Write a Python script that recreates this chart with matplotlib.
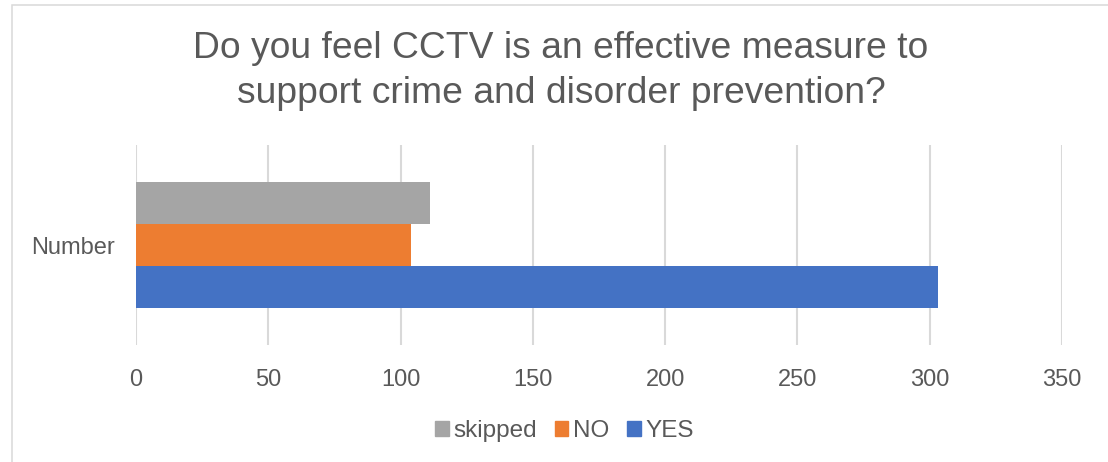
import matplotlib
matplotlib.use("Agg")
import matplotlib.pyplot as plt
from matplotlib.patches import Patch, Rectangle

# survey answers
category = "Number"
series = ["YES", "NO", "skipped"]
counts = [303, 104, 111]
colors = ["#4472C4", "#ED7D31", "#A5A5A5"]
x_ticks = [0, 50, 100, 150, 200, 250, 300, 350]

text_color = "#595959"
grid_color = "#D9D9D9"
plt.rcParams["font.family"] = ["Liberation Sans", "DejaVu Sans"]

fig = plt.figure(figsize=(11.08, 4.62), dpi=100)
ax = fig.add_axes([136 / 1108, 1 - 345 / 462, (1062 - 136) / 1108, 200 / 462])

bar_h = 0.2115
offsets = [-bar_h, 0.0, bar_h]
for name, val, col, off in zip(series, counts, colors, offsets):
    ax.barh(0 + off, val, height=bar_h, color=col, label=name, zorder=2)

ax.set_xlim(0, 350)
ax.set_ylim(-0.5, 0.5)
ax.set_xticks(x_ticks)
ax.set_yticks([0])
ax.set_yticklabels([category])
ax.grid(axis="x", color=grid_color, linewidth=1.5, zorder=0)
ax.tick_params(axis="both", length=0, labelsize=17, labelcolor=text_color)
ax.tick_params(axis="x", pad=17)
ax.tick_params(axis="y", pad=15.5)
for s in ax.spines.values():
    s.set_visible(False)

fig.text(561 / 1108, 1 - 31 / 462,
         "Do you feel CCTV is an effective measure to\nsupport crime and disorder prevention?",
         ha="center", va="top", fontsize=26.8, color=text_color, linespacing=1.37)

handles = [Patch(color=c, label=n) for n, c in zip(series, colors)][::-1]
fig.legend(handles=handles, loc="center", bbox_to_anchor=(564.5 / 1108, 1 - 431 / 462),
           ncol=3, frameon=False, fontsize=17.5, labelcolor=text_color,
           handlelength=0.55, handleheight=0.55, handletextpad=0.18, columnspacing=0.75)

# chart area outline
fig.patches.append(Rectangle((11.5 / 1108, -0.1), 1.2, (462 - 5.5) / 462 + 0.1,
                             transform=fig.transFigure, fill=False,
                             edgecolor=grid_color, linewidth=1.1))

fig.savefig("out.png", dpi=100, facecolor="white")
